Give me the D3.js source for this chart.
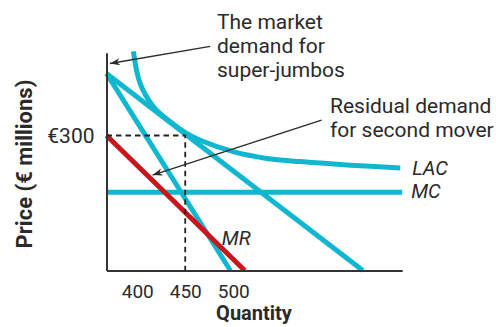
<!DOCTYPE html>
<html>
<head>
<meta charset="utf-8">
<script src="https://cdn.jsdelivr.net/npm/d3@7"></script>
<style>
  html, body { margin: 0; padding: 0; background: #fff; }
  svg { display: block; }
  text { font-family: Roboto, "DejaVu Sans", sans-serif; fill: #2a2a2a; }
</style>
</head>
<body>
<svg id="chart" width="496" height="327"></svg>
<script>
// ---- data (quantity, price in € millions) ----
const quantityTicks = [400, 450, 500];
const priceTicks = [300];
const marketDemand = [{q: 368, p: 438}, {q: 635, p: 0}];
const marginalRevenue = [{q: 368, p: 438}, {q: 497, p: 0}];
const residualDemand = [{q: 368, p: 300}, {q: 512, p: 0}];
const marginalCost = [{q: 368, p: 174}, {q: 676, p: 174}];
const longRunAverageCost = [
  {q: 396, p: 487}, {q: 403, p: 416}, {q: 417, p: 364}, {q: 434, p: 331},
  {q: 451, p: 305}, {q: 465, p: 290}, {q: 500, p: 264}, {q: 535, p: 249},
  {q: 570, p: 242}, {q: 622, p: 234}, {q: 674, p: 228}
];
const secondMoverPoint = {q: 450, p: 300};
const curveLabels = ["LAC", "MC", "MR"];
const marketNote = ["The market", "demand for", "super-jumbos"];
const residualNote = ["Residual demand", "for second mover"];

// ---- layout ----
const svg = d3.select("#chart");
const x = d3.scaleLinear().domain([368, 676]).range([106.5, 402.2]);
const y = d3.scaleLinear().domain([0, 484]).range([270.5, 52.7]);
const cyan = "#10b7cf", red = "#c8161d", ink = "#2a2a2a";

const line = d3.line().x(d => x(d.q)).y(d => y(d.p));
const curve = d3.line().x(d => x(d.q)).y(d => y(d.p)).curve(d3.curveCatmullRom.alpha(0.5));

const defs = svg.append("defs");
defs.append("marker").attr("id", "arrow")
  .attr("viewBox", "-10 -5 12 10").attr("refX", 0).attr("refY", 0)
  .attr("markerWidth", 12).attr("markerHeight", 10).attr("markerUnits", "userSpaceOnUse")
  .attr("orient", "auto")
  .append("path").attr("d", "M0,0 L-10,-3.6 L-7,0 L-10,3.6 Z").attr("fill", ink);

const g = svg.append("g");

// cost curves and demand curves
g.append("path").datum(longRunAverageCost).attr("d", curve)
  .attr("fill", "none").attr("stroke", cyan).attr("stroke-width", 5);
g.append("path").datum(marginalCost).attr("d", line)
  .attr("fill", "none").attr("stroke", cyan).attr("stroke-width", 5);
g.append("path").datum(marketDemand).attr("d", line)
  .attr("fill", "none").attr("stroke", cyan).attr("stroke-width", 5);
g.append("path").datum(marginalRevenue).attr("d", line)
  .attr("fill", "none").attr("stroke", cyan).attr("stroke-width", 5);
g.append("path").datum(residualDemand).attr("d", line)
  .attr("fill", "none").attr("stroke", red).attr("stroke-width", 5);

// dashed guides
g.append("path").datum([{q: 368, p: secondMoverPoint.p}, secondMoverPoint, {q: secondMoverPoint.q, p: 0}])
  .attr("d", line).attr("fill", "none").attr("stroke", "#222")
  .attr("stroke-width", 1.8).attr("stroke-dasharray", "5.5,4");

// axes
const xAxis = d3.axisBottom(x).tickValues(quantityTicks).tickSize(0).tickPadding(14);
const yAxis = d3.axisLeft(y).tickValues(priceTicks).tickSize(0).tickPadding(12)
  .tickFormat(d => "€" + d);
const gx = svg.append("g").attr("transform", `translate(0,${y(0)})`).call(xAxis);
const gy = svg.append("g").attr("transform", `translate(${x(368)},0)`).call(yAxis);
[gx, gy].forEach(a => {
  a.select(".domain").attr("stroke", "#333").attr("stroke-width", 2);
  a.selectAll("text").style("font-family", "Roboto, sans-serif").attr("fill", ink);
});
gx.selectAll("text").style("font-size", "19px");
gy.selectAll("text").style("font-size", "21px");

// axis titles
svg.append("text").attr("x", 254).attr("y", 320).attr("text-anchor", "middle")
  .style("font-size", "20px").style("font-weight", "bold").text("Quantity");
svg.append("text").attr("transform", "translate(32,164) rotate(-90)")
  .attr("text-anchor", "middle").style("font-size", "22px").style("font-weight", "bold")
  .text("Price (€ millions)");

// curve labels
const labelPos = [
  {q: 676, p: 228, dx: 10, dy: 7},
  {q: 676, p: 174, dx: 9, dy: 6},
  {q: 488, p: 57, dx: 0, dy: 0}
];
curveLabels.forEach((t, i) => {
  const lp = labelPos[i];
  svg.append("text").attr("x", x(lp.q) + lp.dx).attr("y", y(lp.p) + lp.dy)
    .style("font-size", "20px").style("font-style", "italic").text(t);
});

// annotations
const note1 = svg.append("text").style("font-size", "21px");
marketNote.forEach((t, i) => note1.append("tspan").attr("x", 217).attr("y", 29 + i * 24).text(t));
const note2 = svg.append("text").style("font-size", "21px");
residualNote.forEach((t, i) => note2.append("tspan").attr("x", 330).attr("y", 113 + i * 24).text(t));

// arrows
svg.append("line").attr("x1", x(476)).attr("y1", y(498)).attr("x2", x(371.6)).attr("y2", y(460))
  .attr("stroke", ink).attr("stroke-width", 1.3).attr("marker-end", "url(#arrow)");
svg.append("line").attr("x1", x(592)).attr("y1", y(334)).attr("x2", x(416)).attr("y2", y(212))
  .attr("stroke", ink).attr("stroke-width", 1.3).attr("marker-end", "url(#arrow)");
</script>
</body>
</html>
